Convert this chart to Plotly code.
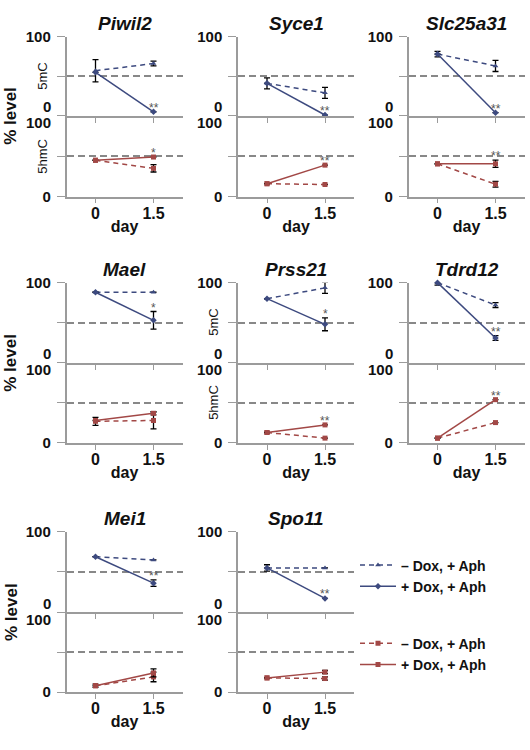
import plotly.graph_objects as go

# ---------------- data ----------------
genes = ["Piwil2", "Syce1", "Slc25a31", "Mael", "Prss21", "Tdrd12", "Mei1", "Spo11"]
days = [0, 1.5]
day_ticks = ["0", "1.5"]

# 5mC (% level), per gene [day0, day1.5]
mc_minus = [[57, 66], [41, 29], [78, 63], [88, 88], [80, 93.5], [100, 72], [69, 65], [55, 55]]
mc_minus_err = [[14, 3], [7, 7], [3.5, 7], [None, None], [None, 7], [3, 3], [None, None], [4, None]]
mc_plus = [[55, 5], [41, 1], [78, 4], [88, 53], [80, 48], [100, 31], [69, 36], [55, 17]]
mc_plus_err = [[None, None], [None, None], [None, None], [None, 11], [None, 8], [None, 3], [None, 4], [None, None]]

# 5hmC (% level)
hmc_minus = [[45, 35], [16, 15], [40.6, 15.4], [27, 28], [13, 6], [6, 25.4], [8, 19], [17.8, 17]]
hmc_minus_err = [[None, 4.5], [None, None], [None, 3.5], [5, 10.5], [None, None], [None, None], [2, 6], [None, 2]]
hmc_plus = [[45, 49], [16, 39], [40.6, 40.6], [28, 37], [13, 22.5], [6, 54], [8, 24], [17.8, 25]]
hmc_plus_err = [[None, None], [None, None], [None, 4.5], [None, 2], [None, None], [None, None], [None, 5], [None, 2]]

# significance marks at day 1.5
sig_mc = ["**", "**", "**", "*", "*", "**", "**", "**"]
sig_hmc = ["*", "**", "**", "", "**", "**", "", ""]

series_names = ["\u2013 Dox, + Aph", "+ Dox, + Aph"]
y_labels = ["5mC", "5hmC"]
label_genes = ["Piwil2", "Prss21"]
y_title = "% level"
x_title = "day"

# ---------------- style ----------------
W, H = 530, 750
FONT = "Arial, Liberation Sans, sans-serif"
BLUE = "#3d4a7f"
RED = "#a24846"
GRID = "#888888"
AXIS = "#9b9b9b"
col_left = [66.5, 238, 408.5]
panel_w = 116
row_px = [(28.3, 109.3, 192), (280, 362, 444), (535, 617, 699)]

fig = go.Figure()
axes = {}
ann = []

for i, g in enumerate(genes):
    r, c = divmod(i, 3)
    x0, x1 = col_left[c] / W, (col_left[c] + panel_w) / W
    top_px, mid_px, bot_px = row_px[r]
    for k in range(2):
        n = 2 * i + k + 1
        xa = "x" if n == 1 else f"x{n}"
        ya = "y" if n == 1 else f"y{n}"
        if k == 0:
            ydom = [1 - mid_px / H, 1 - top_px / H]
            vm, em, vp, ep, color, sig = mc_minus[i], mc_minus_err[i], mc_plus[i], mc_plus_err[i], BLUE, sig_mc[i]
            sym_m, sym_p, leg = "triangle-up", "diamond", "legend"
        else:
            ydom = [1 - bot_px / H, 1 - mid_px / H]
            vm, em, vp, ep, color, sig = hmc_minus[i], hmc_minus_err[i], hmc_plus[i], hmc_plus_err[i], RED, sig_hmc[i]
            sym_m, sym_p, leg = "square", "square", "legend2"

        for vals, errs, dash, sym, name in [(vm, em, "5px,4px", sym_m, series_names[0]),
                                            (vp, ep, "solid", sym_p, series_names[1])]:
            fig.add_trace(go.Scatter(
                x=days, y=vals, xaxis=xa, yaxis=ya, mode="lines+markers",
                name=name, legend=leg, showlegend=(i == 0),
                line=dict(color=color, width=1.5, dash=dash),
                marker=dict(color=color, size=5, symbol=sym),
                error_y=dict(type="data", array=errs, visible=True, color="black",
                             thickness=1.3, width=3),
                cliponaxis=False,
            ))

        axes["xaxis" if n == 1 else f"xaxis{n}"] = dict(
            domain=[x0, x1], anchor=ya, range=[-0.75, 2.25],
            tickvals=days, ticktext=day_ticks, showticklabels=(k == 1),
            ticks="outside", ticklen=5, tickcolor=AXIS, tickwidth=1.3,
            showline=True, linecolor=AXIS, linewidth=1.5,
            showgrid=False, zeroline=False, ticklabelstandoff=-4,
            tickfont=dict(size=16, color="#111", weight="bold", family=FONT),
            title=dict(text=x_title if k == 1 else "", standoff=0,
                       font=dict(size=16, color="#111", weight="bold", family=FONT)),
        )
        axes["yaxis" if n == 1 else f"yaxis{n}"] = dict(
            domain=ydom, anchor=xa, range=[0, 100],
            tickvals=[0, 50, 100], ticktext=["", "", "100"] if k == 0 else ["0", "", ""],
            ticks="outside", ticklen=8, tickcolor=AXIS, tickwidth=1.3,
            showline=True, linecolor=AXIS, linewidth=1.5,
            showgrid=True, gridcolor=GRID, gridwidth=1.6, griddash="7px,4px",
            zeroline=False, ticklabelstandoff=3,
            tickfont=dict(size=15, color="#111", weight="bold", family=FONT),
        )
        # labels at the shared 0/100 line
        ann.append(dict(text="0" if k == 0 else "100", xref=f"{xa} domain", x=0,
                        yref=ya, y=0 if k == 0 else 100, xanchor="right", yanchor="middle",
                        xshift=-14, yshift=9 if k == 0 else -7, showarrow=False,
                        font=dict(size=15, color="#111", weight="bold", family=FONT)))
        if g in label_genes:
            ann.append(dict(text=y_labels[k], xref=f"{xa} domain", x=0, xshift=-24,
                            yref=f"{ya} domain", y=0.5, textangle=-90, showarrow=False,
                            xanchor="center", yanchor="middle",
                            font=dict(size=13, color="#111", family=FONT)))
        if sig:
            top_val = vp[1] + (ep[1] or 0)
            ann.append(dict(text=sig, xref=xa, x=days[1], yref=ya, y=top_val,
                            yanchor="middle", yshift=4, showarrow=False,
                            font=dict(size=12, color="#555", family=FONT)))
        if k == 0:
            ann.append(dict(text=f"<i>{g}</i>", xref=f"{xa} domain", x=0.5,
                            yref=f"{ya} domain", y=1, yanchor="middle", yshift=13,
                            showarrow=False,
                            font=dict(size=19, color="#111", weight="bold", family=FONT)))
            if c == 0:
                ann.append(dict(text=y_title, xref="paper", x=11 / W, yref=f"{ya} domain", y=0,
                                textangle=-90, showarrow=False, xanchor="center", yanchor="middle",
                                font=dict(size=17, color="#111", weight="bold", family=FONT)))

legend_style = dict(xanchor="left", yanchor="top", itemwidth=36,
                    bgcolor="rgba(0,0,0,0)",
                    font=dict(size=14, color="#111", weight="bold", family=FONT))

fig.update_layout(
    width=W, height=H, margin=dict(l=0, r=0, t=0, b=0),
    paper_bgcolor="white", plot_bgcolor="white",
    font=dict(family=FONT, color="#111"),
    annotations=ann,
    showlegend=True,
    legend=dict(x=355 / W, y=1 - 553 / H, **legend_style),
    legend2=dict(x=355 / W, y=1 - 633 / H, **legend_style),
    **axes,
)

fig.write_html("out.html")
